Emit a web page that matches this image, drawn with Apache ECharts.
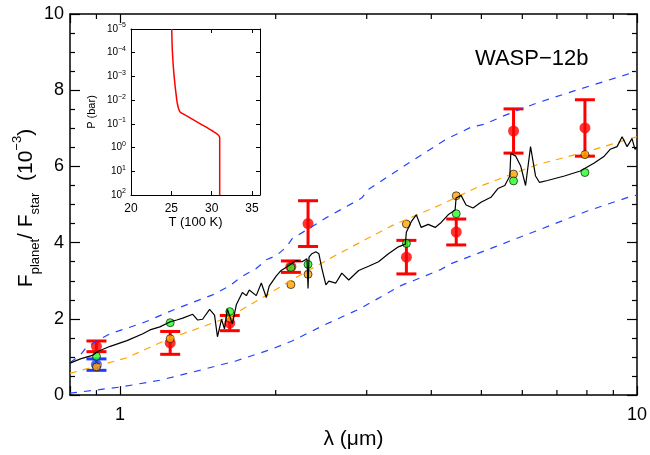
<!DOCTYPE html>
<html><head><meta charset="utf-8">
<script src="https://cdn.jsdelivr.net/npm/echarts@6/dist/echarts.min.js"></script>
<style>html,body{margin:0;padding:0;background:#fff}#c{width:650px;height:455px}</style>
</head><body><div id="c"></div>
<script>
const FONT = 'Liberation Sans';

// photometric bands (micron) and measured / model values (1e-3)
const bandLam = [0.90, 1.25, 1.63, 2.14, 2.31, 3.58, 4.47, 5.77, 7.93];
const redF    = [1.28, 1.37, 1.89, 3.37, 4.50, 3.62, 4.28, 6.93, 7.01];
const redErr  = [0.14, 0.30, 0.20, 0.15, 0.60, 0.44, 0.34, 0.58, 0.74];
const greenF  = [1.02, 1.90, 2.19, 3.35, 3.43, 3.98, 4.76, 5.62, 5.84];
const orangeF = [0.74, 1.48, 2.02, 2.90, 3.17, 4.49, 5.23, 5.80, 6.31];
const blueLam = [0.90];
const blueF   = [0.80];
const blueErr = [0.15];

// model spectrum [lambda, F]
const spectrum = [[0.80,0.84],[0.838,0.95],[0.887,1.05],[0.907,1.15],[0.957,1.28],[1.031,1.43],[1.107,1.61],[1.142,1.71],[1.194,1.79],[1.248,1.92],[1.287,1.97],[1.322,2.02],[1.382,2.12],[1.413,1.97],[1.444,1.99],[1.490,2.25],[1.523,2.10],[1.543,1.53],[1.571,1.99],[1.592,1.74],[1.613,2.25],[1.649,1.87],[1.679,2.38],[1.724,2.69],[1.755,2.61],[1.778,2.76],[1.834,2.61],[1.876,2.94],[1.918,2.56],[1.943,2.86],[2.004,3.12],[2.049,3.27],[2.123,3.40],[2.190,3.53],[2.249,3.50],[2.299,3.58],[2.31,2.80],[2.32,3.62],[2.350,3.71],[2.392,3.76],[2.424,3.71],[2.457,3.32],[2.501,2.89],[2.534,2.99],[2.614,2.94],[2.685,3.20],[2.769,3.02],[2.894,3.27],[3.025,3.38],[3.162,3.50],[3.305,3.71],[3.455,3.89],[3.563,3.96],[3.579,4.27],[3.659,4.55],[3.741,4.73],[3.824,4.40],[3.946,4.48],[4.070,4.40],[4.180,4.53],[4.312,4.73],[4.448,4.86],[4.467,5.17],[4.567,5.24],[4.670,4.99],[4.817,4.91],[4.991,5.06],[5.217,5.19],[5.381,5.42],[5.550,5.50],[5.675,5.75],[5.700,6.34],[5.827,6.27],[5.957,6.01],[6.088,5.50],[6.224,6.52],[6.364,5.75],[6.478,5.58],[6.712,5.63],[7.238,5.75],[7.768,5.88],[8.266,6.09],[8.642,6.27],[8.874,6.45],[9.152,6.52],[9.358,6.78],[9.568,6.52],[9.781,6.73],[9.912,6.45],[10,6.50]];

const blueUpper = [[0.80,0.85],[0.838,1.05],[0.86,1.25],[0.90,1.42],[0.957,1.61],[1.093,1.87],[1.142,1.97],[1.210,2.12],[1.304,2.30],[1.382,2.43],[1.510,2.63],[1.627,2.86],[1.724,3.12],[1.834,3.32],[1.918,3.55],[2.004,3.66],[2.096,3.88],[2.151,4.10],[2.424,4.53],[2.501,4.65],[2.933,5.17],[3.025,5.40],[3.58,6.05],[4.255,6.70],[4.774,7.03],[5.080,7.11],[5.550,7.34],[6.420,7.67],[7.666,8.01],[9.694,8.44],[10,8.50]];
const blueLower = [[0.80,0.05],[1.0,0.21],[1.194,0.39],[1.425,0.65],[1.679,0.90],[1.969,1.21],[2.151,1.42],[2.501,1.86],[2.894,2.25],[3.501,2.88],[3.72,3.02],[4.18,3.30],[4.37,3.45],[5.148,3.82],[6.420,4.32],[8.013,4.83],[9.568,5.18],[10,5.25]];
const orangeLine = [[0.80,0.57],[1.031,0.98],[1.248,1.49],[1.382,1.70],[1.537,1.93],[1.63,2.05],[1.724,2.25],[1.926,2.63],[2.151,3.03],[2.614,3.67],[3.350,4.44],[4.180,5.00],[4.924,5.46],[6.420,6.05],[8.013,6.39],[9.694,6.73],[10,6.78]];

// inset T-P profile [T (100 K), P (bar)]
const tpProfile = [[25.05,1e-5],[25.14,1e-4],[25.35,1e-3],[25.68,1e-2],[25.85,0.02],[26.0,0.028],[26.15,0.033],[26.9,0.046],[28.6,0.10],[30.2,0.21],[30.85,0.30],[31.0,0.38],[31.0,100]];

// axis ranges and tick values
const xRange = [0.8, 10];
const yRange = [0, 10];
const xMinorTicks = [0.9, 2, 3, 4, 5, 6, 7, 8, 9];
const insetT = [20, 36];
const insetP = [1e-5, 100];

const chart = echarts.init(document.getElementById('c'));

function isPow10(v){ const l = Math.log10(v); return Math.abs(l - Math.round(l)) < 1e-6; }

function errRender(color){
  return function(params, api){
    const x = api.value(0), y = api.value(1), e = api.value(2);
    const t = api.coord([x, y + e]), b = api.coord([x, y - e]);
    const hw = 10, st = {stroke: color, lineWidth: 3};
    return {type:'group', children:[
      {type:'line', shape:{x1:t[0],y1:t[1],x2:b[0],y2:b[1]}, style:st},
      {type:'line', shape:{x1:t[0]-hw,y1:t[1],x2:t[0]+hw,y2:t[1]}, style:st},
      {type:'line', shape:{x1:b[0]-hw,y1:b[1],x2:b[0]+hw,y2:b[1]}, style:st}
    ]};
  };
}

const axisLineStyle = {color:'#000', width:1.5};
const tickStyle = {color:'#000', width:1.2};

function insetPLabel(v){
  const e = Math.round(Math.log10(v));
  return '{b|10}{s|' + String(e).replace('-', '−') + '}';
}

const option = {
  animation: false,
  backgroundColor: '#fff',
  textStyle: {fontFamily: FONT, color:'#000'},
  grid: [
    {left:70, right:10, top:14, bottom:49},
    {left:131, top:29, width:129, height:166, show:true, backgroundColor:'#fff', borderWidth:0}
  ],
  xAxis: [
    {gridIndex:0, type:'log', logBase:10, min:xRange[0], max:xRange[1], position:'bottom',
     axisLine:{show:true, onZero:false, lineStyle:axisLineStyle},
     axisTick:{show:true, inside:true, length:9, lineStyle:tickStyle},
     axisLabel:{fontSize:18, color:'#000', margin:11, fontFamily:FONT,
       formatter: v => isPow10(v) ? String(Math.round(v)) : ''},
     splitLine:{show:false},
     name:'λ (μm)', nameLocation:'middle', nameGap:28,
     nameTextStyle:{fontSize:21, color:'#000', fontFamily:FONT}},
    {gridIndex:0, type:'log', logBase:10, min:xRange[0], max:xRange[1], position:'top',
     axisLine:{show:true, onZero:false, lineStyle:axisLineStyle},
     axisTick:{show:true, inside:true, length:9, lineStyle:tickStyle},
     axisLabel:{show:false}, splitLine:{show:false}},
    {gridIndex:1, type:'value', min:insetT[0], max:insetT[1], interval:5, position:'bottom',
     axisLine:{show:true, onZero:false, lineStyle:{color:'#000', width:1}},
     axisTick:{show:true, inside:true, length:4, lineStyle:{color:'#000', width:1}},
     axisLabel:{fontSize:12, color:'#000', margin:8, showMaxLabel:false, fontFamily:FONT},
     splitLine:{show:false},
     name:'T (100 K)', nameLocation:'middle', nameGap:20,
     nameTextStyle:{fontSize:13, color:'#000', fontFamily:FONT}},
    {gridIndex:1, type:'value', min:insetT[0], max:insetT[1], interval:5, position:'top',
     axisLine:{show:true, onZero:false, lineStyle:{color:'#000', width:1}},
     axisTick:{show:true, inside:true, length:4, lineStyle:{color:'#000', width:1}},
     axisLabel:{show:false}, splitLine:{show:false}}
  ],
  yAxis: [
    {gridIndex:0, type:'value', min:yRange[0], max:yRange[1], interval:2, position:'left',
     axisLine:{show:true, onZero:false, lineStyle:axisLineStyle},
     axisTick:{show:true, inside:true, length:10, lineStyle:tickStyle},
     minorTick:{show:true, splitNumber:4, length:5, lineStyle:{color:'#000', width:1.2}},
     axisLabel:{fontSize:18, color:'#000', margin:6, fontFamily:FONT},
     splitLine:{show:false}, minorSplitLine:{show:false}},
    {gridIndex:0, type:'value', min:yRange[0], max:yRange[1], interval:2, position:'right',
     axisLine:{show:true, onZero:false, lineStyle:axisLineStyle},
     axisTick:{show:true, inside:true, length:10, lineStyle:tickStyle},
     minorTick:{show:true, splitNumber:4, length:5, lineStyle:{color:'#000', width:1.2}},
     axisLabel:{show:false}, splitLine:{show:false}},
    {gridIndex:1, type:'log', logBase:10, min:insetP[0], max:insetP[1], inverse:true, position:'left',
     axisLine:{show:true, onZero:false, lineStyle:{color:'#000', width:1}},
     axisTick:{show:true, inside:true, length:4, lineStyle:{color:'#000', width:1}},
     axisLabel:{color:'#000', margin:5, formatter: insetPLabel,
       rich:{b:{fontSize:10, fontFamily:FONT, lineHeight:16, color:'#000'},
             s:{fontSize:7, fontFamily:FONT, lineHeight:16, height:9, verticalAlign:'top', color:'#000'}}},
     splitLine:{show:false},
     name:'P (bar)', nameLocation:'middle', nameGap:34, nameRotate:90,
     nameTextStyle:{fontSize:11, color:'#000', fontFamily:FONT}},
    {gridIndex:1, type:'log', logBase:10, min:insetP[0], max:insetP[1], inverse:true, position:'right',
     axisLine:{show:true, onZero:false, lineStyle:{color:'#000', width:1}},
     axisTick:{show:true, inside:true, length:4, lineStyle:{color:'#000', width:1}},
     axisLabel:{show:false}, splitLine:{show:false}}
  ],
  graphic: [
    {type:'text', x:26, y:208, rotation:Math.PI/2, z:100,
     style:{text:'{m|F}{sb|planet}{m|/ F}{sb|star}{m|  (10}{sp|−3}{m|)}', align:'center', verticalAlign:'middle',
       rich:{m:{fontSize:21, fontFamily:FONT, lineHeight:38, fill:'#000'},
             sb:{fontSize:13, fontFamily:FONT, lineHeight:38, height:20, verticalAlign:'bottom', fill:'#000'},
             sp:{fontSize:13, fontFamily:FONT, lineHeight:38, height:20, verticalAlign:'top', fill:'#000'}}}},
    {type:'text', x:475, y:59, z:100,
     style:{text:'WASP−12b', fontSize:22, fontFamily:FONT, fill:'#000', align:'left', verticalAlign:'middle'}}
  ],
  series: [
    {type:'custom', xAxisIndex:0, yAxisIndex:0, silent:true,
     data: xMinorTicks.map(v => [v, 0]), encode:{x:0, y:1},
     renderItem: function(params, api){
       const v = api.value(0);
       const b = api.coord([v, yRange[0]]), t = api.coord([v, yRange[1]]);
       const st = {stroke:'#000', lineWidth:1.2};
       return {type:'group', children:[
         {type:'line', shape:{x1:b[0],y1:b[1],x2:b[0],y2:b[1]-5}, style:st},
         {type:'line', shape:{x1:t[0],y1:t[1],x2:t[0],y2:t[1]+5}, style:st}
       ]};
     }},
    {type:'line', xAxisIndex:0, yAxisIndex:0, data:blueLower, showSymbol:false, symbol:'none',
     lineStyle:{color:'#2244ff', width:1.2, type:[7,7]}},
    {type:'line', xAxisIndex:0, yAxisIndex:0, data:blueUpper, showSymbol:false, symbol:'none',
     lineStyle:{color:'#2244ff', width:1.2, type:[7,7]}},
    {type:'line', xAxisIndex:0, yAxisIndex:0, data:orangeLine, showSymbol:false, symbol:'none',
     lineStyle:{color:'#ffa500', width:1.2, type:[7,6]}},
    {type:'line', xAxisIndex:0, yAxisIndex:0, data:spectrum, showSymbol:false, symbol:'none',
     lineStyle:{color:'#000', width:1.2}},
    {type:'custom', xAxisIndex:0, yAxisIndex:0, renderItem: errRender('#ff0000'),
     data: bandLam.map((l,i) => [l, redF[i], redErr[i]]), encode:{x:0, y:1}},
    {type:'custom', xAxisIndex:0, yAxisIndex:0, renderItem: errRender('#1f3cff'),
     data: blueLam.map((l,i) => [l, blueF[i], blueErr[i]]), encode:{x:0, y:1}},
    {type:'scatter', xAxisIndex:0, yAxisIndex:0, symbolSize:11,
     itemStyle:{color:'#ff0000'}, data: bandLam.map((l,i) => [l, redF[i]])},
    {type:'scatter', xAxisIndex:0, yAxisIndex:0, symbolSize:11,
     itemStyle:{color:'#1f3cff'}, data: blueLam.map((l,i) => [l, blueF[i]])},
    {type:'scatter', xAxisIndex:0, yAxisIndex:0, symbolSize:8,
     itemStyle:{color:'#ffa500', borderColor:'#000', borderWidth:0.8}, data: bandLam.map((l,i) => [l, orangeF[i]])},
    {type:'scatter', xAxisIndex:0, yAxisIndex:0, symbolSize:8,
     itemStyle:{color:'#22ff22', borderColor:'#000', borderWidth:0.8}, data: bandLam.map((l,i) => [l, greenF[i]])},
    {type:'line', xAxisIndex:2, yAxisIndex:2, data:tpProfile, showSymbol:false, symbol:'none', smooth:0.3,
     lineStyle:{color:'#ff0000', width:1.5}}
  ]
};
chart.setOption(option);
</script>
</body></html>
